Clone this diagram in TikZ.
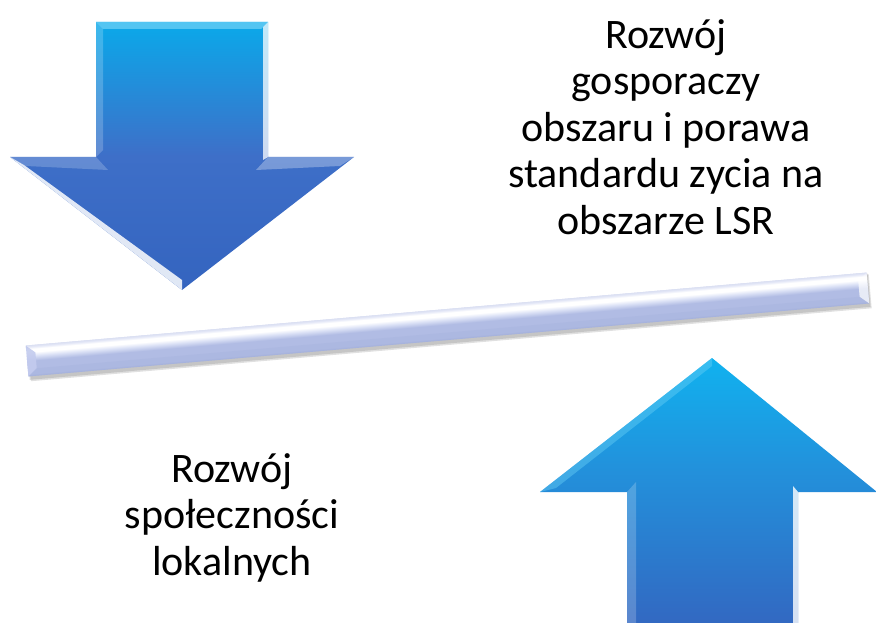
\documentclass[tikz,border=0pt]{standalone}
\usepackage{fontspec}
\setmainfont{Carlito}
\definecolor{dtop}{HTML}{0AA9EA}
\definecolor{dmid}{HTML}{3E6FC8}
\definecolor{dbot}{HTML}{3464BF}
\definecolor{utop}{HTML}{10B2EF}
\definecolor{umid}{HTML}{2292DC}
\definecolor{ubot}{HTML}{3464BF}
\definecolor{barlav}{HTML}{B1BCE4}
\definecolor{barlight}{HTML}{DCE2F6}
\definecolor{bardark}{HTML}{A3B0DB}
\definecolor{baredge}{HTML}{C3CBEE}
\pgfdeclareverticalshading{downsh}{100bp}{color(0bp)=(dbot); color(25bp)=(dbot); color(50bp)=(dmid); color(75bp)=(dtop); color(100bp)=(dtop)}
\pgfdeclareverticalshading{upsh}{100bp}{color(0bp)=(ubot); color(25bp)=(ubot); color(56bp)=(umid); color(75bp)=(utop); color(100bp)=(utop)}
\pgfdeclareverticalshading{barsh}{100bp}{color(0bp)=(bardark); color(25bp)=(bardark); color(29bp)=(barlav); color(50bp)=(barlav); color(58bp)=(barlight); color(64bp)=(white); color(69bp)=(white); color(73bp)=(baredge); color(75bp)=(barlav); color(100bp)=(barlav)}
\tikzset{
  txt/.style={font=\fontsize{42}{46.5}\selectfont, align=center, inner sep=0pt, text=black},
  bevel/.style={draw=none, fill=white, fill opacity=#1}
}
\begin{document}
\begin{tikzpicture}[x=1pt,y=-1pt]
\useasboundingbox (0,0) rectangle (876,623);
\clip (0,0) rectangle (876,623);

% down arrow
\path[shading=downsh] (96,22) -- (268,22) -- (268,157) -- (354,157) -- (182,290) -- (10,157) -- (96,157) -- cycle;
\fill[cyan!55!white, opacity=0.7] (96,22) -- (268,22) -- (261,29) -- (103,29) -- cycle;
\fill[bevel=0.2] (96,22) -- (103,29) -- (103,150) -- (96,157) -- cycle;
\fill[bevel=0.75] (268,22) -- (268,157) -- (263,160) -- (263,27) -- cycle;
\fill[bevel=0.2] (10,157) -- (96,157) -- (108,170) -- (26,166) -- cycle;
\fill[bevel=0.3] (268,157) -- (354,157) -- (340,166) -- (256,170) -- cycle;
\fill[bevel=0.85] (10,157) -- (24,165) -- (182,280) -- (182,290) -- cycle;

% up arrow
\path[shading=upsh] (712,358) -- (877,492) -- (798,492) -- (798,640) -- (627,640) -- (627,492) -- (540,492) -- cycle;
\fill[cyan!60!white, opacity=0.45] (712,358) -- (540,492) -- (556,488) -- (712,366) -- cycle;
\fill[bevel=0.2] (627,492) -- (636,482) -- (636,640) -- (627,640) -- cycle;
\fill[bevel=0.8] (798,492) -- (793,486) -- (793,640) -- (798,640) -- cycle;

% bar (drawn in a rotated canvas so that its shading follows it)
\coordinate (barc) at (447.5,324.5);
\begin{scope}[transform canvas={shift={(barc)}, rotate=4.96}, x=1pt, y=1pt]
  \fill[black, opacity=0.12] (-420,-20.5) rectangle (424,13.5);
  \fill[black, opacity=0.12] (-421,-19) rectangle (423,14.5);
  \path[shading=barsh] (-422,-15.5) rectangle (422,15.5);
  \fill[baredge, opacity=0.9] (-422,-15.5) -- (-422,15.5) -- (-413,8) -- (-413,-8) -- cycle;
  \fill[white, opacity=0.55] (-422,15.5) -- (-413,8) -- (413,8) -- (422,15.5) -- cycle;
  \fill[white, opacity=0.7] (422,-15.5) -- (422,15.5) -- (413,8) -- (413,-8) -- cycle;
  \fill[bardark, opacity=0.3] (-422,-15.5) -- (-413,-8) -- (413,-8) -- (422,-15.5) -- cycle;
\end{scope}

% texts
\node[txt, anchor=north] (t1) at (666,19) {Rozwój\\gosporaczy\\obszaru i porawa\\standardu zycia na\\obszarze LSR};
\node[txt, anchor=north] (t2) at (232,453) {Rozwój\\społeczności\\lokalnych};
\end{tikzpicture}
\end{document}
